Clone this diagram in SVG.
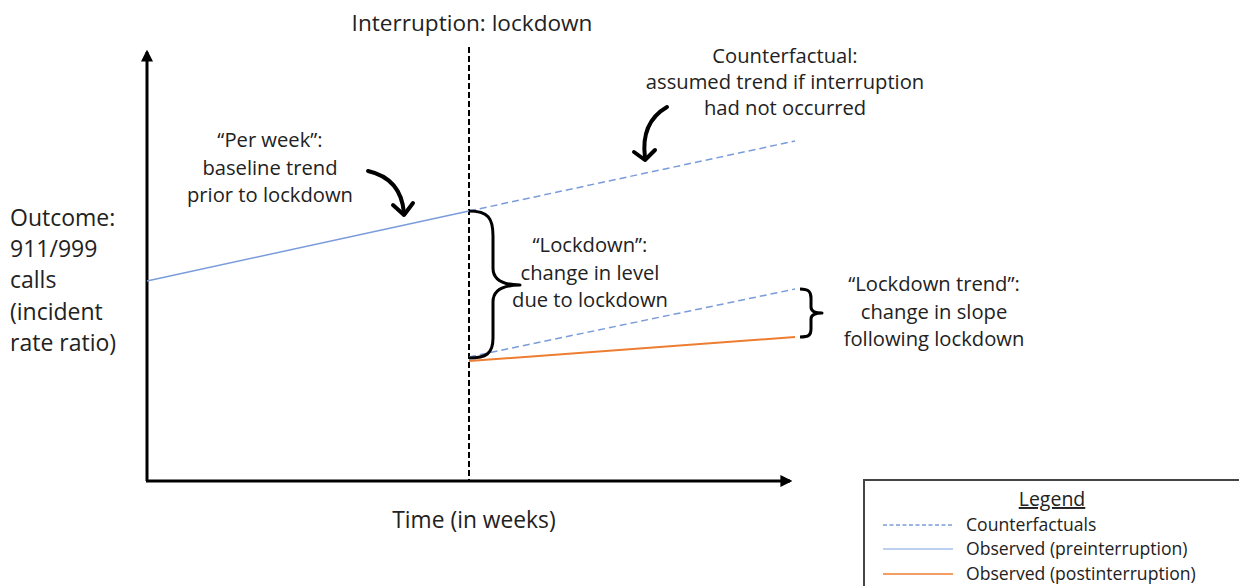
<svg xmlns="http://www.w3.org/2000/svg" width="1239" height="586" viewBox="0 0 1239 586">
<defs>
<style>
text{font-family:"Open Sans",Lato,"Liberation Sans",sans-serif;fill:#222;}
.t{font-size:20.2px;text-anchor:middle;}
.l{font-size:23px;}
.g{font-size:17.6px;}
.ax{stroke:#000;stroke-width:3;fill:none;}
.pre{stroke:#7A9CDA;stroke-width:1.5;fill:none;}
.cf{stroke:#7A9CDA;stroke-width:1.5;fill:none;stroke-dasharray:7 4;}
.post{stroke:#ED7D31;stroke-width:2;fill:none;}
.br{stroke:#000;stroke-width:3;fill:none;stroke-linejoin:round;}
.cur{stroke:#000;stroke-width:4;fill:none;stroke-linecap:round;stroke-linejoin:round;}
</style>
<marker id="ah" viewBox="0 0 10 10" refX="8" refY="5" markerWidth="4" markerHeight="4" orient="auto"><path d="M0,0 L10,5 L0,10 z" fill="#000"/></marker>
</defs>
<rect width="1239" height="586" fill="#fff"/>
<g id="connectors">
<line class="ax" x1="147" y1="481" x2="147" y2="52" marker-end="url(#ah)"/>
<line class="ax" x1="146" y1="481" x2="790" y2="481" marker-end="url(#ah)"/>
<line x1="469" y1="47" x2="469" y2="481" stroke="#000" stroke-width="2" stroke-dasharray="6 3"/>
<line class="pre" x1="147" y1="281" x2="469" y2="211"/>
<line class="cf" x1="469" y1="211" x2="795" y2="141"/>
<line class="cf" x1="469" y1="357" x2="795" y2="289"/>
<line class="post" x1="469" y1="361" x2="795" y2="337"/>
<path class="br" d="M469,211 C488,211 493,218 493,236 L493,268 C493,280 503,285 520,285 C503,285 493,290 493,302 L493,338 C493,354 486,358 469,358"/>
<path class="br" d="M800,289 C809,289 811,292 811,298 L811,307 C811,311 814,313 822,313 C814,313 811,315 811,319 L811,329 C811,335 809,337 800,337"/>
<path class="cur" d="M368,171 C390,176 402,190 404,213"/>
<path class="cur" d="M393,205 L404,215 L413,203"/>
<path class="cur" d="M667,107 C648,118 642,135 645,158"/>
<path class="cur" d="M634,152 L645,160 L655,150"/>
</g>
<g id="title"><text class="t" x="472" y="31" style="font-size:22.6px">Interruption: lockdown</text></g>
<g id="counterfactual">
<text class="t" x="785" y="63">Counterfactual:</text>
<text class="t" x="785" y="89">assumed trend if interruption</text>
<text class="t" x="785" y="115">had not occurred</text>
</g>
<g id="perweek">
<text class="t" x="270" y="147">“Per week”:</text>
<text class="t" x="270" y="175">baseline trend</text>
<text class="t" x="270" y="202">prior to lockdown</text>
</g>
<g id="outcome">
<text class="l" x="10" y="226">Outcome:</text>
<text class="l" x="10" y="257">911/999</text>
<text class="l" x="10" y="288">calls</text>
<text class="l" x="10" y="320">(incident</text>
<text class="l" x="10" y="351">rate ratio)</text>
</g>
<g id="lockdown">
<text class="t" x="590" y="252">“Lockdown”:</text>
<text class="t" x="590" y="280">change in level</text>
<text class="t" x="590" y="307">due to lockdown</text>
</g>
<g id="lockdowntrend">
<text class="t" x="934" y="291">“Lockdown trend”:</text>
<text class="t" x="934" y="319">change in slope</text>
<text class="t" x="934" y="346">following lockdown</text>
</g>
<g id="xlabel"><text class="t" x="474" y="528" style="font-size:22.8px">Time (in weeks)</text></g>
<g id="legend">
<rect x="864" y="480" width="400" height="120" fill="#fff" stroke="#444" stroke-width="2"/>
<text class="g" x="1052" y="506" text-anchor="middle" text-decoration="underline" style="font-size:19.5px">Legend</text>
<line class="cf" x1="883" y1="525" x2="953" y2="525" style="stroke-dasharray:4 2.5"/>
<text class="g" x="966" y="531">Counterfactuals</text>
<line x1="883" y1="549" x2="953" y2="549" stroke="#A9C0EA" stroke-width="1.5"/>
<text class="g" x="966" y="555">Observed (preinterruption)</text>
<line x1="883" y1="574" x2="953" y2="574" stroke="#ED7D31" stroke-width="1.5"/>
<text class="g" x="966" y="580">Observed (postinterruption)</text>
</g>
</svg>
